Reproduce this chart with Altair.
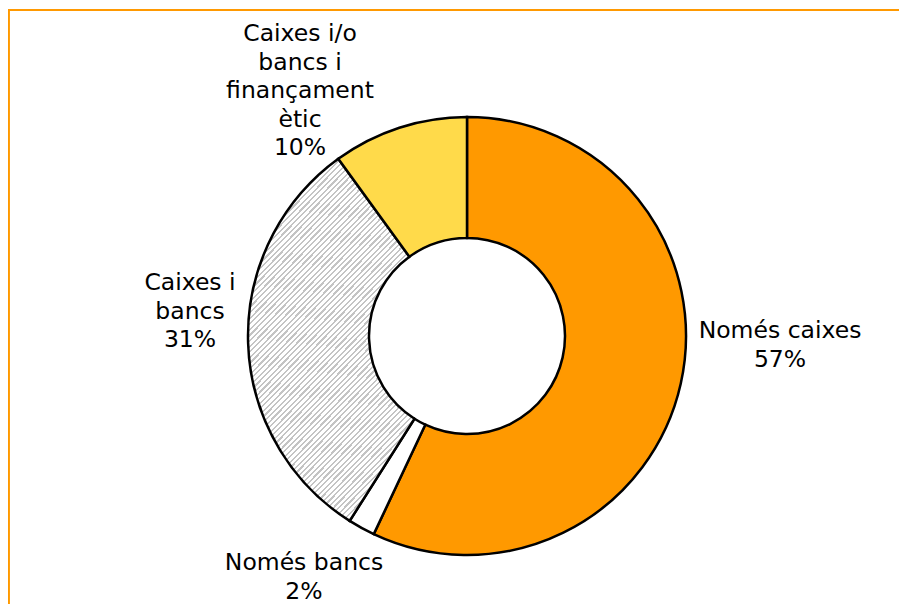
import altair as alt
import pandas as pd

# ---- data ----
categories = ["Només caixes", "Només bancs", "Caixes i bancs",
              "Caixes i/o bancs i finançament ètic"]
values = [57, 2, 31, 10]
label_lines = [
    ["Només caixes", "57%"],
    ["Només bancs", "2%"],
    ["Caixes i", "bancs", "31%"],
    ["Caixes i/o", "bancs i", "finançament", "ètic", "10%"],
]

df = pd.DataFrame({
    "category": categories,
    "value": values,
    "order": list(range(len(categories))),
    "label": label_lines,
})

# ---- styles ----
W, H = 891, 596
CX, CY = 459, 328
R_OUT, R_IN = 219, 98
FONT = "DejaVu Sans"
FS = 23.5

solid_colors = ["#FF9900", "#FFFFFF", "#E2E2E2", "#FFDA4A"]

# hatched fill (grey diagonal lines on white) as a striped gradient
stops = []
n_stripes = 95
for i in range(n_stripes):
    a = i / n_stripes
    b = (i + 0.6) / n_stripes
    c = (i + 1) / n_stripes
    stops += [
        {"offset": a, "color": "#FFFFFF"},
        {"offset": b, "color": "#FFFFFF"},
        {"offset": b, "color": "#C4C4C4"},
        {"offset": c, "color": "#C4C4C4"},
    ]
hatch = {"gradient": "linear", "x1": 0, "y1": 0, "x2": 0.566, "y2": 1.205,
         "stops": stops}

# first-line centres of each label block (layout only)
label_pos = {
    "Només caixes": (772, 323),
    "Només bancs": (296, 555),
    "Caixes i bancs": (182, 275),
    "Caixes i/o bancs i finançament ètic": (292, 26),
}

base = alt.Chart(df)

arcs = base.mark_arc(
    outerRadius=R_OUT, innerRadius=R_IN, stroke="#000000", strokeWidth=2.5,
).encode(
    theta=alt.Theta("value:Q", stack=True),
    order=alt.Order("order:Q"),
    fill=alt.condition(
        alt.datum.category == "Caixes i bancs",
        alt.value(hatch),
        alt.Fill("category:N",
                 scale=alt.Scale(domain=categories, range=solid_colors),
                 legend=None),
    ),
    x=alt.value(CX),
    y=alt.value(CY),
)

label_layers = []
for cat in categories:
    lx, ly = label_pos[cat]
    label_layers.append(
        base.transform_filter(alt.datum.category == cat).mark_text(
            font=FONT, fontSize=FS, color="#000000", align="center",
            baseline="middle", lineHeight=28.5,
        ).encode(
            text="label",
            x=alt.value(lx),
            y=alt.value(ly),
        )
    )

border_top = alt.Chart(df).mark_rule(color="#FF9900", strokeWidth=1.5).encode(
    x=alt.value(0), x2=alt.value(W), y=alt.value(2)
)
border_left = alt.Chart(df).mark_rule(color="#FF9900", strokeWidth=1.5).encode(
    x=alt.value(0.75), y=alt.value(2), y2=alt.value(H)
)

chart = alt.layer(border_top, border_left, arcs, *label_layers).properties(
    width=W, height=H, padding=0, autosize="none",
).configure_view(stroke=None)

chart.save("out.html", embed_options={"renderer": "svg", "actions": False})
